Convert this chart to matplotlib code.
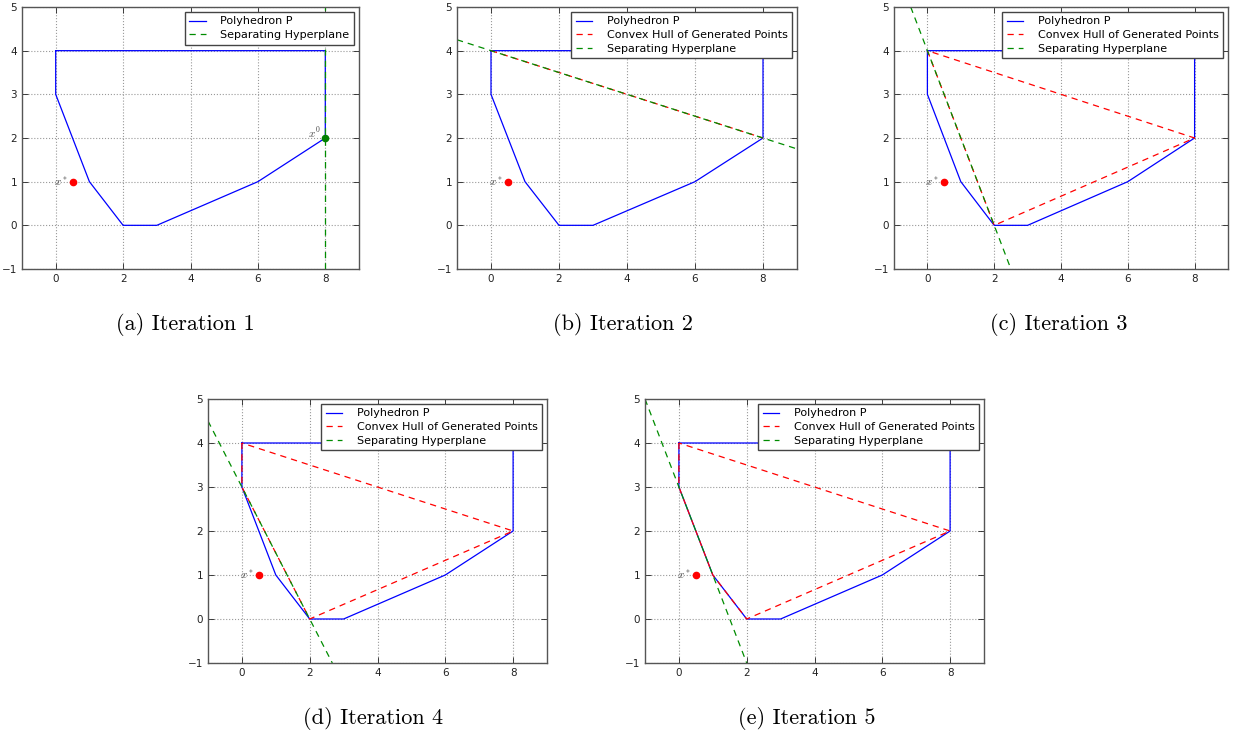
import matplotlib
matplotlib.use("Agg")
import matplotlib.pyplot as plt

plt.rcParams["mathtext.fontset"] = "cm"

# Polyhedron P vertices (closed)
poly_x = [0, 0, 1, 2, 3, 6, 8, 8, 0]
poly_y = [4, 3, 1, 0, 0, 1, 2, 4, 4]

# target point x* and starting point x0
x_star = [0.5, 1]
x_zero = [8, 2]

# convex hull of generated points per iteration (None for iteration 1)
hull_x = [None, [0, 8], [0, 2, 8, 0], [0, 0, 2, 8, 0], [0, 0, 1, 2, 8, 0]]
hull_y = [None, [4, 2], [4, 0, 2, 4], [4, 3, 0, 2, 4], [4, 3, 1, 0, 2, 4]]

# separating hyperplane segments per iteration
hyp_x = [[8, 8], [-1, 9], [-0.5, 2.5], [-1, 2.667], [-1, 2]]
hyp_y = [[-1, 5], [4.25, 1.75], [5, -1], [4.5, -1], [5, -1]]

captions = ["(a) Iteration 1", "(b) Iteration 2", "(c) Iteration 3",
            "(d) Iteration 4", "(e) Iteration 5"]

x_ticks = [0, 2, 4, 6, 8]
y_ticks = [-1, 0, 1, 2, 3, 4, 5]

W, H = 1241, 734
fig = plt.figure(figsize=(W / 100, H / 100), dpi=100)

# axes rectangles in pixels: left, top, right, bottom
boxes = [(22, 7, 359, 269), (457, 7, 797, 269), (894, 7, 1228, 269),
         (208, 399, 547, 663), (645, 399, 984, 663)]
cap_pos = [(185, 324), (623, 324), (1059, 324), (373, 718), (807, 718)]

for i in range(5):
    l, t, r, b = boxes[i]
    ax = fig.add_axes([l / W, 1 - b / H, (r - l) / W, (b - t) / H])
    ax.plot(poly_x, poly_y, color=(0, 0, 1), lw=0.9, label="Polyhedron P")
    if hull_x[i] is not None:
        ax.plot(hull_x[i], hull_y[i], color=(1, 0, 0), lw=0.9, ls="--",
                dashes=(5, 4), label="Convex Hull of Generated Points")
    ax.plot(hyp_x[i], hyp_y[i], color=(0, 0.55, 0), lw=0.9, ls="--",
            dashes=(5, 4), label="Separating Hyperplane")
    ax.plot([x_star[0]], [x_star[1]], "o", color="red", ms=4.5, mec="red")
    ax.text(x_star[0] - 0.15, x_star[1], "$x^*$", ha="right", va="center",
            fontsize=8, color="#444444")
    if i == 0:
        ax.plot([x_zero[0]], [x_zero[1]], "o", color=(0, 0.5, 0), ms=4.5,
                mec=(0, 0.5, 0))
        ax.text(x_zero[0] - 0.15, x_zero[1] - 0.05, "$x^0$", ha="right",
                va="bottom", fontsize=8, color="#444444")
    ax.set_xlim(-1, 9)
    ax.set_ylim(-1, 5)
    ax.set_xticks(x_ticks)
    ax.set_yticks(y_ticks)
    ax.grid(True, ls=":", color="#999999", lw=0.8)
    ax.tick_params(direction="in", top=True, right=True, labelsize=7.5,
                   length=4, width=0.6, colors="#222222")
    for s in ax.spines.values():
        s.set_linewidth(1.0)
        s.set_color("#555555")
    leg = ax.legend(loc="upper right", fontsize=8, fancybox=False,
                    framealpha=1, edgecolor="#444444", handlelength=1.5,
                    borderaxespad=0.45, labelspacing=0.33, handletextpad=1.3,
                    borderpad=0.4)
    leg.get_frame().set_linewidth(1.0)
    cx, cy = cap_pos[i]
    fig.text(cx / W, 1 - cy / H, captions[i], ha="center", va="center",
             fontsize=16, family=["cmr10", "DejaVu Serif"])

fig.savefig("out.png", dpi=100)
